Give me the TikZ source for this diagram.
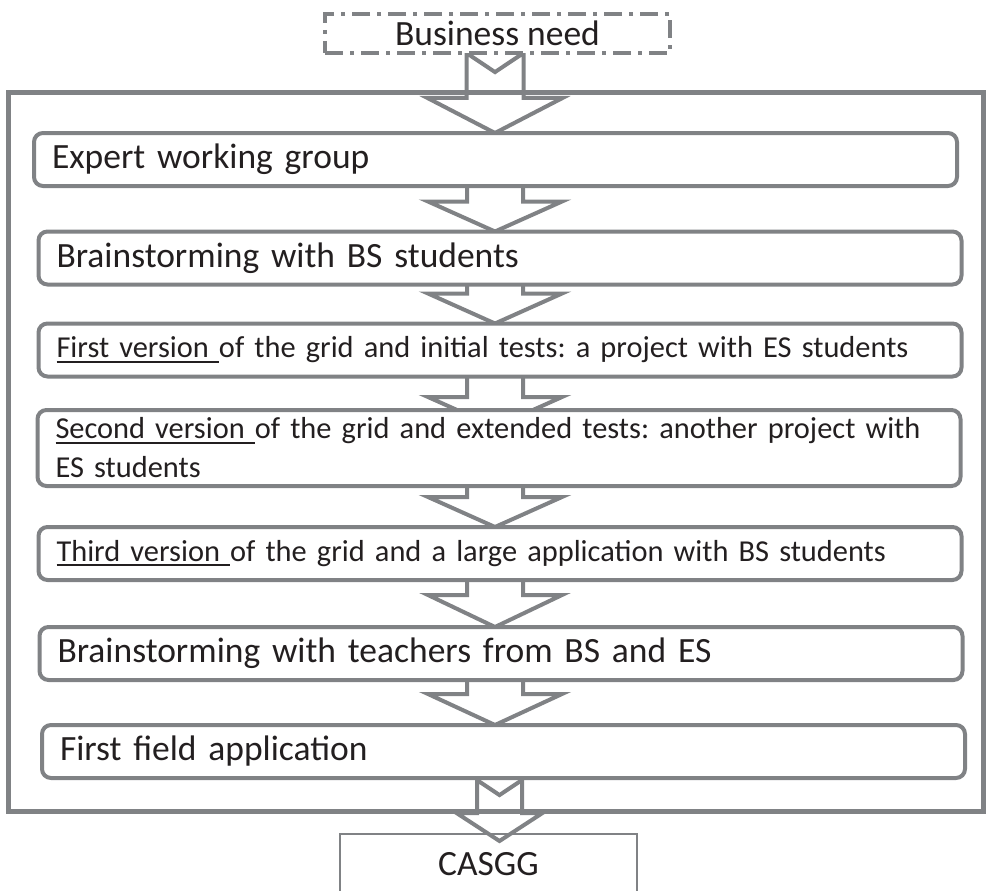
\documentclass[tikz,border=0pt]{standalone}
\usepackage{fontspec}
\setmainfont{Carlito}
\usetikzlibrary{calc,backgrounds}

\definecolor{framegray}{RGB}{128,130,133}
\definecolor{inkblack}{RGB}{35,31,32}

\frenchspacing
\newcommand{\boxfont}{\fontsize{35.5}{41}\selectfont}
\newcommand{\stepfont}{\fontsize{30.4}{39}\selectfont\hyphenpenalty=10000}
\newcommand{\ulpart}[1]{\setbox0\hbox{#1}\rlap{\rule[-5pt]{\wd0}{2pt}}\box0}

% hollow block arrow: tail, tip, shaft half width, head half width, head length
\newcommand{\blockarr}[5]{%
  \draw[arrline] let \p1=(#1), \p2=(#2) in
    (\x2-#3,\y1) -- (\x2,\y1-0.67*#3) -- (\x2+#3,\y1) -- (\x2+#3,\y2+#5)
    -- (\x2+#4,\y2+#5) -- (\x2,\y2) -- (\x2-#4,\y2+#5) -- (\x2-#3,\y2+#5) -- cycle;}

\begin{document}
\begin{tikzpicture}[x=1pt, y=-1pt,
    box/.style={rectangle, draw=framegray, line width=4pt, rounded corners=9pt,
      fill=white, text=inkblack, outer sep=0pt, inner xsep=18pt, text width=887pt,
      minimum height=53pt, align=left, font=\boxfont},
    smallbox/.style={box, font=\stepfont},
    dashbox/.style={rectangle, draw=framegray, line width=4pt,
      dash pattern=on 18pt off 7pt on 4pt off 7pt, fill=white, text=inkblack,
      outer sep=0pt, minimum width=345pt, minimum height=39pt, font=\boxfont},
    endbox/.style={rectangle, draw=framegray, line width=1.5pt, text=inkblack,
      outer sep=0pt, minimum width=297pt, minimum height=62pt, font=\boxfont},
    arrline/.style={draw=framegray, line width=4pt},
    frameline/.style={draw=framegray, line width=5pt}
]
    \useasboundingbox (0,0) rectangle (986,891);

    % Input and result
    \node[dashbox] (need) at (497.5,33.5) {Business need};
    \node[endbox] (casgg) at (488.5,865) {\raisebox{3pt}{CASGG}};

    % Frame round the steps
    \draw[frameline] (8,93) rectangle (983,811);

    % Steps
    \node[box] (expert) at (495.5,159.5) {Expert working group};
    \node[box] (bsstud) at (500,258) {Brainstorming with BS students};
    \node[smallbox] (first) at (500,350) {\ulpart{First version\ }of the grid and initial tests: a project with ES students};
    \node[smallbox, minimum height=76pt] (second) at (499,448) {\ulpart{Second version\ }of the grid and extended tests: another project with\\ES students};
    \node[smallbox] (third) at (500,553.5) {\ulpart{Third version\ }of the grid and a large application with BS students};
    \node[box] (teach) at (501,653.5) {Brainstorming with teachers from BS and ES};
    \node[box] (field) at (503.5,751.5) {First field application};

    \coordinate (spine) at (495,0);
    \coordinate (outtip) at ($(casgg.north)+(11,7)$);

    % Arrows
    \begin{scope}[on background layer]
        \blockarr{need.south}{expert.north -| spine}{28.5}{67.5}{35}
        \blockarr{$(expert.south)+(0,-25)$}{bsstud.north -| spine}{28}{67}{30}
        \blockarr{$(bsstud.south)+(0,-25)$}{first.north -| spine}{28}{67}{30}
        \blockarr{$(first.south)+(0,-25)$}{$(second.north -| spine)+(0,17)$}{28}{67}{30}
        \blockarr{$(second.south)+(0,-25)$}{third.north -| spine}{28}{67}{30}
        \blockarr{$(third.south)+(0,-25)$}{teach.north -| spine}{28}{67}{32}
        \blockarr{$(teach.south)+(0,-25)$}{field.north -| spine}{28}{67}{31}
        \blockarr{$(field.south)+(0,2)$}{outtip}{22.5}{43}{28}
    \end{scope}
\end{tikzpicture}
\end{document}
